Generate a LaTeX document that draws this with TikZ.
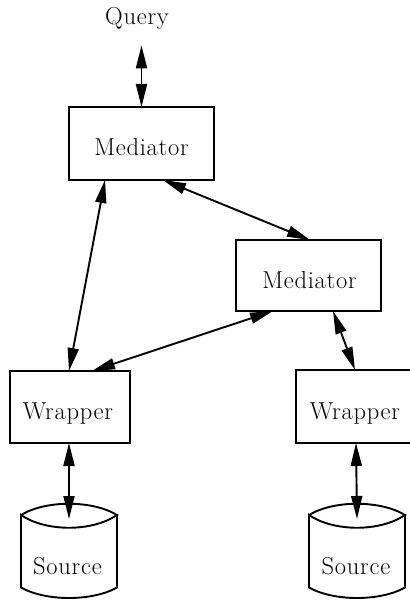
\documentclass[tikz,border=0pt]{standalone}
\usepackage{fontspec}
\setmainfont{Latin Modern Roman}[LetterSpace=3]
\usetikzlibrary{arrows.meta,calc}
\begin{document}
\begin{tikzpicture}[x=1pt,y=-1pt,line width=1.9pt,
  box/.style={draw,rectangle,inner sep=0pt,outer sep=0pt,minimum width=#1},
  lbl/.style={anchor=base,inner sep=0pt,font=\fontsize{24.5}{29}\selectfont},
  cylbox/.style={rectangle,inner sep=0pt,outer sep=0pt,minimum width=96pt,minimum height=94pt},
  arr/.style={{Triangle[length=23pt,width=11pt]}-{Triangle[length=23pt,width=11pt]},line width=1.9pt}]
\useasboundingbox (0,0) rectangle (409,601);
% boxes
\node[box=145pt,minimum height=73pt] (m1) at (141.5,143.5) {};
\node[box=145pt,minimum height=71pt] (m2) at (308.5,275.5) {};
\node[box=120pt,minimum height=72pt] (wl) at (70,407) {};
\node[box=120pt,minimum height=73pt] (wr) at (356,406.5) {};
\node[cylbox] (sl) at (69,551) {};
\node[cylbox] (sr) at (357,551) {};
% cylinders
\foreach \c in {sl,sr}{
  \draw let \p1=(\c.north west), \p2=(\c.south east) in
    (\x1,\y1-11pt) .. controls (\x1+25pt,\y1+4pt) and (\x2-25pt,\y1+4pt) .. (\x2,\y1-11pt)
    .. controls (\x2-25pt,\y1-28pt) and (\x1+25pt,\y1-28pt) .. (\x1,\y1-11pt)
    -- (\x1,\y2+10.5pt) .. controls (\x1+25pt,\y2-3.5pt) and (\x2-25pt,\y2-3.5pt) .. (\x2,\y2+10.5pt)
    -- (\x2,\y1-11pt);
}
% labels
\node[lbl] (q) at (137,25) {Query};
\node[lbl] (m1t) at (141.5,156) {Mediator};
\node[lbl] (m2t) at (309.5,288) {Mediator};
\node[lbl] (wlt) at (68,419) {Wrapper};
\node[lbl] (wrt) at (355,419) {Wrapper};
\node[lbl] (slt) at (67.5,574) {Source};
\node[lbl] (srt) at (356,574) {Source};
% connectors
\draw[arr] ([yshift=-14.5pt]q.south -| m1.north) -- (m1.north);
\draw[arr] ([xshift=21.5pt]m1.south) -- ([xshift=1.5pt]m2.north);
\draw[arr] ([xshift=-36.5pt]m1.south) -- ([xshift=-1pt]wl.north);
\draw[arr] ([xshift=-35.5pt]m2.south) -- ([xshift=22pt]wl.north);
\draw[arr] ([xshift=24.5pt]m2.south) -- ([xshift=-1pt]wr.north);
\draw[arr] ([xshift=-1pt]wl.south) -- ([yshift=-15pt]sl.north);
\draw[arr] (wr.south) -- ([yshift=-15pt]sr.north);
\end{tikzpicture}
\end{document}
